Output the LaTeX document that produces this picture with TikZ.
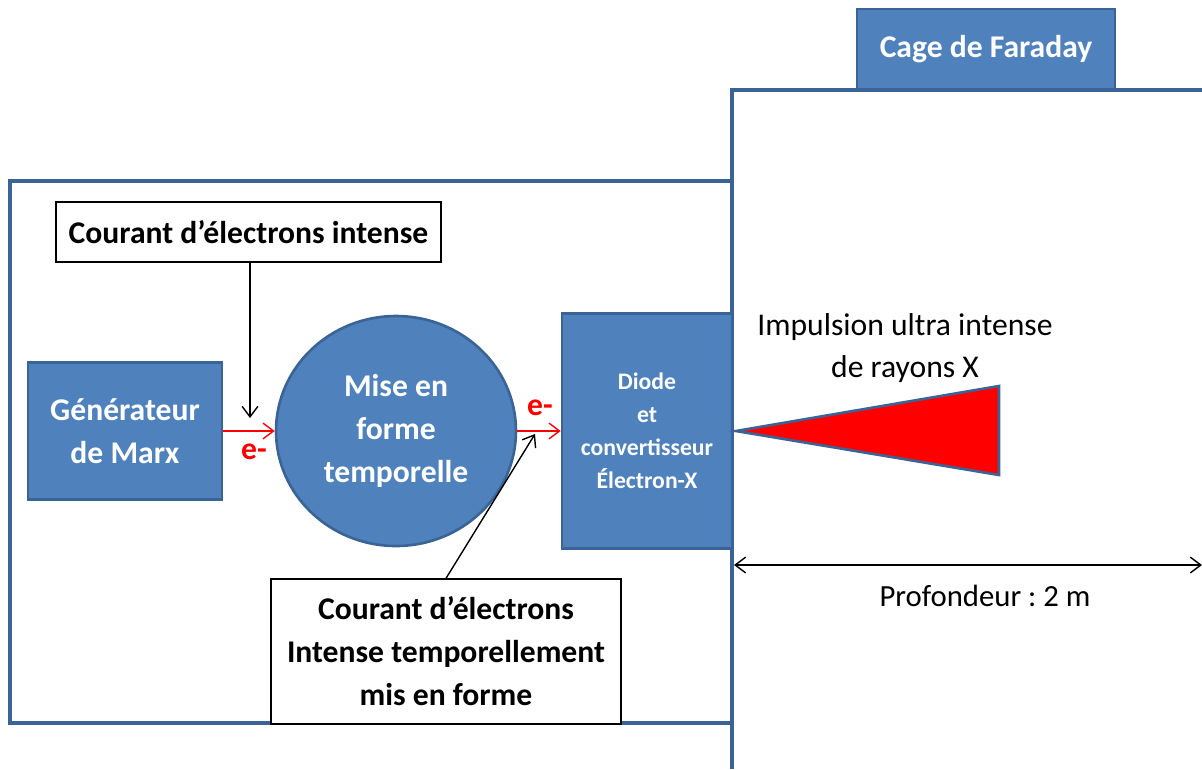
\documentclass[tikz,border=0pt]{standalone}
\usepackage{fontspec}
\setmainfont{Carlito}
\usetikzlibrary{arrows, arrows.meta, shapes.geometric}
\definecolor{blocblue}{HTML}{4F81BD}
\definecolor{bordblue}{HTML}{3A6496}

\begin{document}
\begin{tikzpicture}[
        x = 0.02cm, y = -0.02cm, % one unit = one pixel of the layout
        > = {Straight Barb[length=6pt, width=9pt]}, % arrow head style
        thin
    ]

    \tikzstyle{bloc}=[
        draw = bordblue,
        line width = 1.5pt,
        fill = blocblue,
        text = white,
        font = \bfseries\fontsize{18}{24.5}\selectfont,
        align = center,
        inner sep = 0pt
    ]
    \tikzstyle{legende}=[
        draw = black,
        line width = 0.8pt,
        fill = white,
        font = \bfseries\fontsize{18}{24.5}\selectfont,
        align = center,
        inner sep = 0pt
    ]
    \tikzstyle{mur}=[draw = bordblue, line width = 1.8pt]
    \tikzstyle{flux}=[->, red, line width = 0.8pt]
    \tikzstyle{charge}=[red, font = \bfseries\fontsize{18}{20}\selectfont]

    \useasboundingbox (0,0) rectangle (1202,769);

    % enceintes
    \draw[mur] (10,181) rectangle (732,723);
    \draw[mur] (732,769) -- (732,90) -- (1202,90);

    \node[bloc, minimum width=5.16cm, minimum height=1.6cm] (cage) at (986,49) {Cage de Faraday};

    \node[bloc, minimum width=3.88cm, minimum height=2.74cm] (marx) at (125,431) {Générateur\\de Marx};
    \node[bloc, ellipse, minimum width=4.8cm, minimum height=4.6cm] (mise) at (396,431) {Mise en\\forme\\temporelle};
    \node[bloc, minimum width=3.4cm, minimum height=4.7cm,
          font=\bfseries\fontsize{13.5}{18.8}\selectfont] (diode) at (647,431) {Diode\\et\\convertisseur\\Électron-X};

    \node[legende, minimum width=7.7cm, minimum height=1.2cm] (courant) at (248.5,232) {Courant d’électrons intense};
    \node[legende, minimum width=7cm, minimum height=2.9cm] (forme) at (446,651.5) {Courant d’électrons\\Intense temporellement\\mis en forme};

    % faisceau X
    \draw[draw=bordblue, line width=1.5pt, fill=red] (736,431) -- (999,386) -- (999,475) -- cycle;
    \node[align=center, font=\fontsize{18}{23.5}\selectfont] (impulsion) at (905,348) {Impulsion ultra intense\\de rayons X};

    % electrons
    \path[flux] (marx.east) edge (mise.west);
    \path[flux] (mise.east) edge (diode.west);
    \node[charge] (e1) at (254,452) {e-};
    \node[charge] (e2) at (540,408) {e-};

    \coordinate (cible1) at (250,418);
    \coordinate (cible2) at (535,434);
    \draw[->, line width=0.8pt] (courant.south -| cible1) -- (cible1);
    \draw[->, line width=0.8pt] (forme.north) -- (cible2);

    % profondeur
    \coordinate (murG) at (734,565);
    \coordinate (murD) at (1202,565);
    \draw[<->, line width=0.8pt] (murG) -- (murD);
    \node[font=\fontsize{17.5}{20}\selectfont] (prof) at (985,596) {Profondeur :\ 2 m};
\end{tikzpicture}
\end{document}
